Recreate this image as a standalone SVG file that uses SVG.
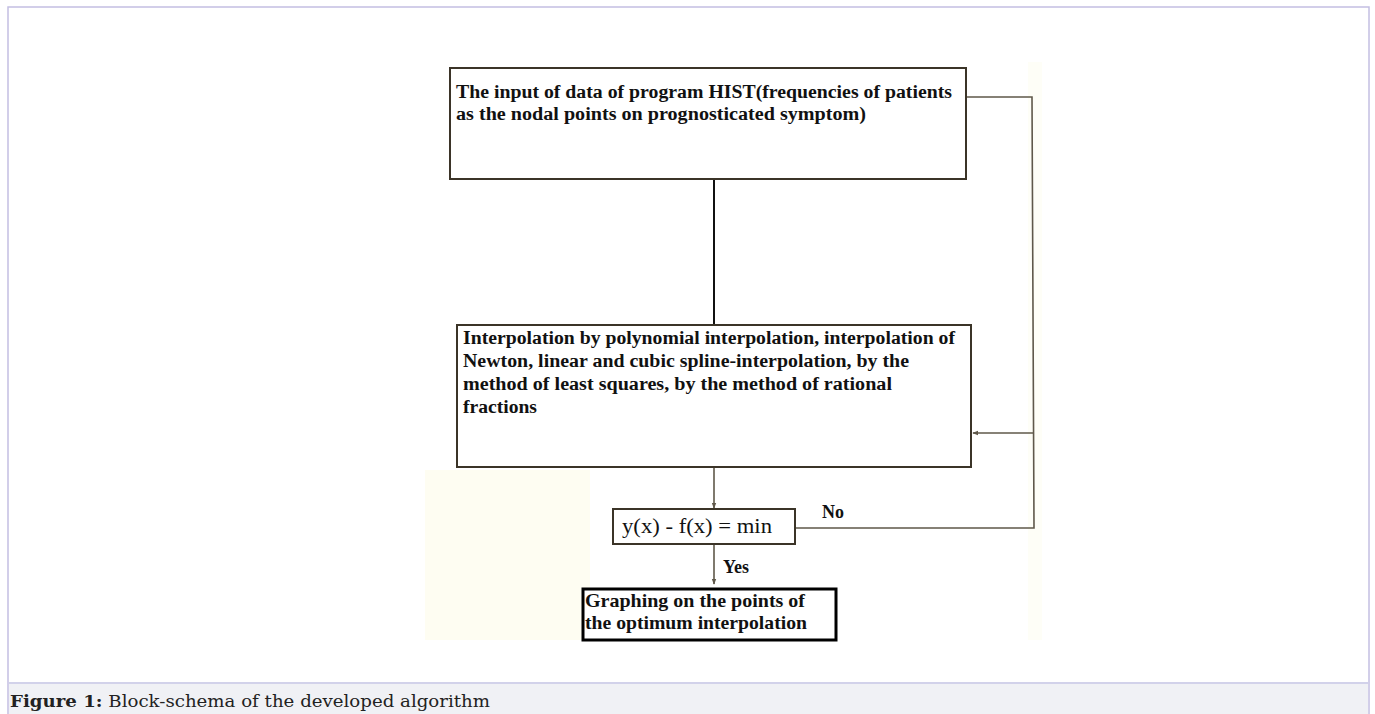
<svg xmlns="http://www.w3.org/2000/svg" width="1375" height="714" viewBox="0 0 1375 714">
<defs>
<style>
.box{fill:#fff;stroke:#3b3428;stroke-width:2}
.t{font-family:"Liberation Serif","Times New Roman",serif;font-weight:bold;font-size:18px;fill:#111}
.ln{fill:none;stroke:#5f584a;stroke-width:1.6}
</style>
<marker id="ah" viewBox="0 0 8 8" refX="7" refY="4" markerWidth="6" markerHeight="6" orient="auto" markerUnits="userSpaceOnUse">
<path d="M0,1 L8,4 L0,7 z" fill="#5f584a"/>
</marker>
</defs>
<rect x="0" y="0" width="1375" height="714" fill="#fff"/>
<rect x="8" y="7" width="1361" height="720" fill="#fff" stroke="#c3bfe2" stroke-width="1.5"/>
<rect x="9" y="683" width="1359" height="31" fill="#f0f1f5"/>
<line x1="9" y1="683" x2="1368" y2="683" stroke="#d2d2ea" stroke-width="2"/>
<rect x="425" y="470" width="165" height="170" fill="#fefdf2"/>
<rect x="1028" y="62" width="14" height="578" fill="#fefef7"/>

<g id="connectors">
<line class="ln" x1="714" y1="179" x2="714" y2="325" style="stroke:#111;stroke-width:2"/>
<polyline class="ln" points="966,97 1032,97 1034,528 795,528"/>
<line class="ln" x1="1033" y1="433" x2="973" y2="433" marker-end="url(#ah)"/>
<line class="ln" x1="714" y1="467" x2="714" y2="508" marker-end="url(#ah)"/>
<line class="ln" x1="714" y1="544" x2="714" y2="584" marker-end="url(#ah)"/>
<text x="822" y="518" class="t" style="font-size:18px">No</text>
<text x="723" y="573" class="t" style="font-size:18px">Yes</text>
</g>

<g id="input">
<rect class="box" x="450" y="68" width="516" height="111"/>
<text class="t" x="456" y="98" textLength="496" lengthAdjust="spacingAndGlyphs">The input of data of program HIST(frequencies of patients</text>
<text class="t" x="456" y="120" textLength="410" lengthAdjust="spacingAndGlyphs">as the nodal points on prognosticated symptom)</text>
</g>

<g id="interpolation">
<rect class="box" x="457" y="325" width="514" height="142"/>
<text class="t" x="463" y="344" textLength="492" lengthAdjust="spacingAndGlyphs">Interpolation by polynomial interpolation, interpolation of</text>
<text class="t" x="463" y="367" textLength="446" lengthAdjust="spacingAndGlyphs">Newton, linear and cubic spline-interpolation, by the</text>
<text class="t" x="463" y="390" textLength="429" lengthAdjust="spacingAndGlyphs">method of least squares, by the method of rational</text>
<text class="t" x="463" y="413" textLength="74" lengthAdjust="spacingAndGlyphs">fractions</text>
</g>

<g id="decision">
<rect class="box" x="613" y="509" width="182" height="35"/>
<text x="622" y="533" textLength="150" lengthAdjust="spacingAndGlyphs" style="font-family:'Liberation Serif','Times New Roman',serif;font-size:21px;fill:#111">y(x) - f(x) = min</text>
</g>

<g id="graphing">
<rect x="583" y="589" width="253" height="51" fill="#fff" stroke="#000" stroke-width="3"/>
<text class="t" x="585" y="607" textLength="220" lengthAdjust="spacingAndGlyphs" style="font-size:19px">Graphing on the points of</text>
<text class="t" x="585" y="629" textLength="222" lengthAdjust="spacingAndGlyphs" style="font-size:19px">the optimum interpolation</text>
</g>

<g id="caption">
<text x="10" y="707" textLength="480" lengthAdjust="spacingAndGlyphs" style="font-family:'DejaVu Serif','Liberation Serif',serif;font-size:17px;fill:#222"><tspan font-weight="bold">Figure 1:</tspan> Block-schema of the developed algorithm</text>
</g>
</svg>
